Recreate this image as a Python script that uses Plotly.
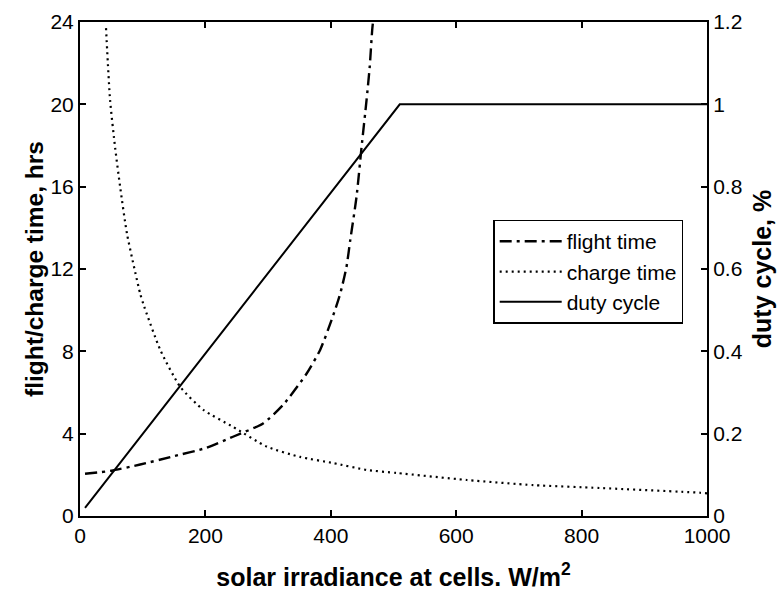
import plotly.graph_objects as go

# flight time (hrs) vs irradiance
flight_x = [8, 50, 96, 149, 200, 244, 292, 324, 361, 383, 401, 415, 425, 431, 441, 449, 457, 462, 466, 468]
flight_y = [2.05, 2.2, 2.5, 2.9, 3.3, 3.85, 4.5, 5.4, 6.9, 8.07, 9.5, 10.8, 12.1, 13.4, 15.5, 17.9, 20.2, 21.8, 23.6, 24.2]

# charge time (hrs) vs irradiance
charge_x = [41.5, 48, 56, 64, 75, 96, 101, 128, 160, 197, 244, 298, 351, 404, 457, 505, 617, 723, 829, 989, 1000]
charge_y = [23.7, 20.2, 17.9, 16.0, 13.7, 10.8, 10.3, 8.07, 6.27, 5.15, 4.33, 3.37, 2.87, 2.57, 2.24, 2.09, 1.75, 1.5, 1.36, 1.13, 1.1]

# duty cycle (fraction) vs irradiance
duty_x = [8, 510, 1000]
duty_y = [0.02, 1.0, 1.0]

x_ticks = [0, 200, 400, 600, 800, 1000]
left_ticks = [0, 4, 8, 12, 16, 20, 24]
right_ticks = [0, 0.2, 0.4, 0.6, 0.8, 1.0, 1.2]
right_labels = ["0", "0.2", "0.4", "0.6", "0.8", "1", "1.2"]

FONT = "Liberation Sans, Arial, sans-serif"

fig = go.Figure()
fig.add_trace(go.Scatter(x=flight_x, y=flight_y, mode="lines", name="flight time",
                         line=dict(color="black", width=2.4, dash="12px,5px,3px,5px",
                                   shape="spline", smoothing=0.6)))
fig.add_trace(go.Scatter(x=charge_x, y=charge_y, mode="lines", name="charge time",
                         line=dict(color="black", width=2.2, dash="2px,4px",
                                   shape="spline", smoothing=0.6)))
fig.add_trace(go.Scatter(x=duty_x, y=duty_y, mode="lines", name="duty cycle", yaxis="y2",
                         line=dict(color="black", width=2)))

axis_common = dict(showline=True, linecolor="black", linewidth=2, ticks="inside",
                   ticklen=6, tickwidth=1.5, tickcolor="black", showgrid=False, zeroline=False,
                   automargin=False,
                   tickfont=dict(family=FONT, size=21, color="black"))

fig.update_layout(
    width=782, height=592,
    margin=dict(l=80, r=75, t=22, b=76),
    paper_bgcolor="white", plot_bgcolor="white",
    showlegend=True,
    xaxis=dict(range=[0, 1000], tickvals=x_ticks, mirror="ticks",
               title=dict(text="<b>solar irradiance at cells. W/m<sup>2</sup></b>",
                          font=dict(family=FONT, size=25, color="black"), standoff=22),
               **axis_common),
    yaxis=dict(range=[0, 24], tickvals=left_ticks,
               title=dict(text="<b>flight/charge time, hrs</b>",
                          font=dict(family=FONT, size=24.5, color="black"), standoff=0),
               **axis_common),
    yaxis2=dict(range=[0, 1.2], tickvals=right_ticks, ticktext=right_labels,
                overlaying="y", side="right",
                title=dict(text="<b>duty cycle, %</b>",
                           font=dict(family=FONT, size=25, color="black"), standoff=12),
                **axis_common),
    legend=dict(x=0.659, y=0.6, xanchor="left", yanchor="top",
                bgcolor="white", bordercolor="black", borderwidth=1.5,
                font=dict(family=FONT, size=21, color="black"),
                itemwidth=62, entrywidth=204, tracegroupgap=0),
)

fig.write_html("out.html")
